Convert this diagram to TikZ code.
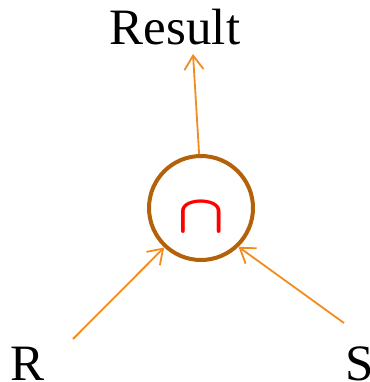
\documentclass[tikz,border=0pt]{standalone}
\usepackage{graphicx}
\usepackage{fontspec}
\setmainfont{Liberation Serif}
\usetikzlibrary{arrows.meta}
\definecolor{arrorange}{RGB}{242,140,30}
\definecolor{ringbrown}{RGB}{180,98,10}
\tikzset{
  lbl/.style={font=\fontsize{51}{51}\selectfont, inner sep=0pt, anchor=base},
  flow/.style={draw=arrorange, line width=1.8pt, -{Straight Barb[length=14pt,width=19pt,line width=1.8pt]}},
  opnode/.style={circle, draw=ringbrown, line width=4pt, minimum size=104pt, inner sep=0pt},
  capstyle/.style={text=red, font=\boldmath, inner sep=0pt, anchor=base}
}
\begin{document}
\begin{tikzpicture}[x=1pt,y=-1pt]
\useasboundingbox (0,0) rectangle (369,382);
\node[lbl] (result) at (175,45) {Result};
\node[lbl] (R) at (28,380) {R};
\node[lbl] (S) at (360,380) {S};
\node[opnode] (op) at (201,208) {};
\node[capstyle] (capsym) at (201,232.5) {\scalebox{6.2}[5.4]{$\cap$}};
\coordinate (rtip) at (193,54);
\coordinate (rstart) at (73,339);
\coordinate (sstart) at (344,323);
\draw[flow] (op.92) -- (rtip);
\draw[flow] (rstart) -- (op.-133);
\draw[flow] (sstart) -- (op.-46);
\end{tikzpicture}
\end{document}
